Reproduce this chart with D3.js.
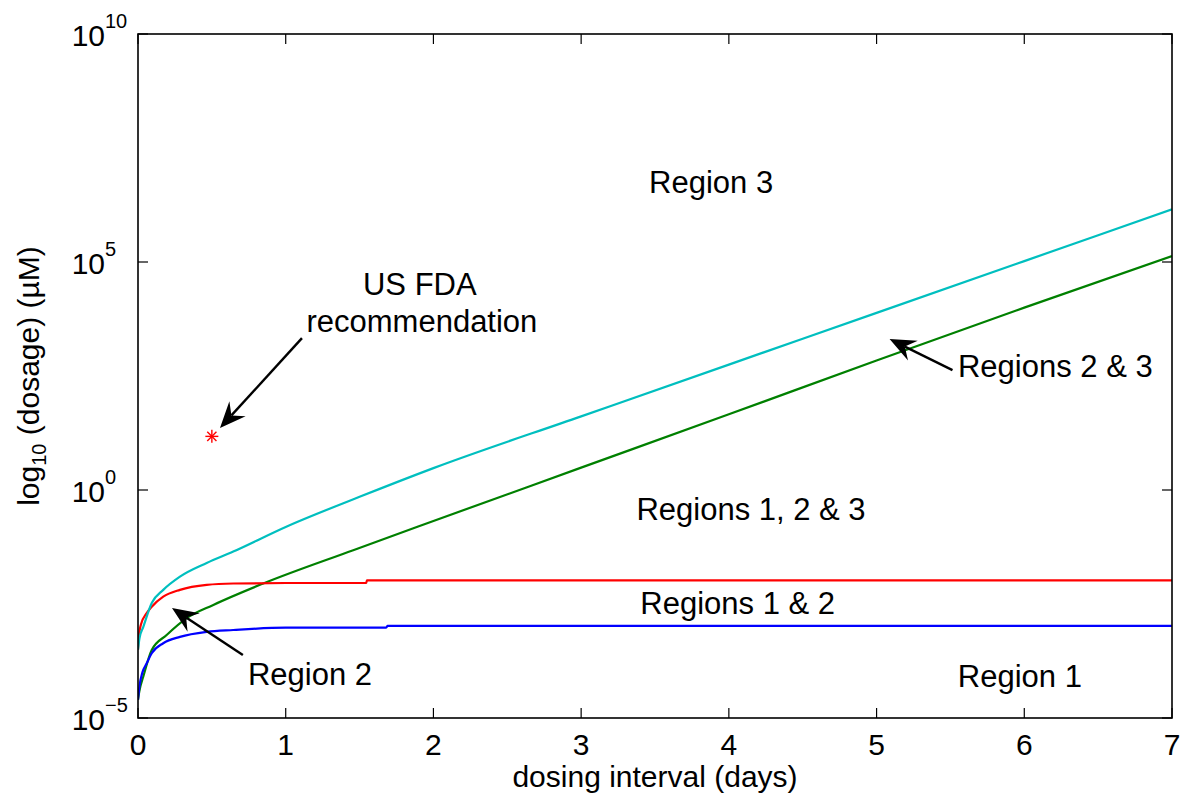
<!DOCTYPE html>
<html>
<head>
<meta charset="utf-8">
<script src="https://cdn.jsdelivr.net/npm/d3@7"></script>
<style>
  html, body { margin: 0; padding: 0; background: #fff; }
  svg { display: block; font-family: "Liberation Sans", Arial, Helvetica, sans-serif; }
</style>
</head>
<body>
<svg id="chart" width="1188" height="800"></svg>
<script>
// Dosing interval (days) sampled along each boundary curve
const daysCyan  = [0, 0.01, 0.036, 0.093, 0.171, 0.284, 0.465, 0.645, 1, 1.5, 2, 3, 4, 5, 6, 7];
const logCyan   = [-3.5, -3.25, -3.0, -2.48, -2.19, -1.9, -1.6, -1.35, -0.81, -0.15, 0.48, 1.615, 2.75, 3.885, 5.02, 6.155];

const daysGreen = [0, 0.01, 0.036, 0.093, 0.194, 0.33, 0.51, 0.848, 1.457, 2, 3, 4, 5, 6, 7];
const logGreen  = [-4.6, -4.4, -4.09, -3.51, -3.18, -2.81, -2.52, -2.05, -1.32, -0.68, 0.49, 1.66, 2.84, 4.0, 5.13];

const daysRed   = [0, 0.005, 0.02, 0.059, 0.093, 0.171, 0.284, 0.465, 0.645, 1.0, 1.545, 1.55, 7];
const logRed    = [-3.5, -3.22, -2.95, -2.7, -2.56, -2.34, -2.19, -2.08, -2.05, -2.04, -2.04, -1.98, -1.98];

const daysBlue  = [0, 0.01, 0.03, 0.059, 0.093, 0.171, 0.284, 0.465, 0.645, 1.0, 1.68, 1.69, 7];
const logBlue   = [-4.6, -4.3, -4.0, -3.8, -3.58, -3.36, -3.22, -3.11, -3.07, -3.02, -3.02, -2.98, -2.98];

// US FDA recommended regimen
const fdaDays = [0.5];
const fdaDose = [15];

// Axis ticks
const xTicks = [0, 1, 2, 3, 4, 5, 6, 7];
const yTickExp = [-5, 0, 5, 10];

const W = 1188, H = 800;
const margin = { left: 138, top: 34, right: 16, bottom: 82 };
const iw = W - margin.left - margin.right;   // plot width
const ih = H - margin.top - margin.bottom;   // plot height

const x = d3.scaleLinear().domain([0, 7]).range([0, iw]);
const y = d3.scaleLog().domain([1e-5, 1e10]).range([ih, 0]);

const svg = d3.select("#chart");
const g = svg.append("g").attr("transform", `translate(${margin.left},${margin.top})`);

const toPts = (xs, ls) => xs.map((d, i) => [d, Math.pow(10, ls[i])]);
const series = [
  { pts: toPts(daysCyan, logCyan),   color: "#00bfbf" },
  { pts: toPts(daysGreen, logGreen), color: "#008000" },
  { pts: toPts(daysRed, logRed),     color: "#ff0000" },
  { pts: toPts(daysBlue, logBlue),   color: "#0000ff" }
];

const line = d3.line().x(d => x(d[0])).y(d => y(d[1])).curve(d3.curveMonotoneX);

g.append("clipPath").attr("id", "plotclip")
  .append("rect").attr("width", iw).attr("height", ih);

const curves = g.append("g").attr("clip-path", "url(#plotclip)");
// draw in order so cyan/red sit above green/blue where they meet
[series[1], series[3], series[2], series[0]].forEach(s => {
  curves.append("path")
    .attr("d", line(s.pts))
    .attr("fill", "none")
    .attr("stroke", s.color)
    .attr("stroke-width", 2.2)
    .attr("stroke-linejoin", "round");
});

// FDA asterisk marker
fdaDays.forEach((d, i) => {
  const cx = x(d), cy = y(fdaDose[i]);
  const r = 6.5;
  const mk = g.append("g").attr("stroke", "#ff0000").attr("stroke-width", 1.4);
  [[0, 1], [1, 0], [0.707, 0.707], [0.707, -0.707]].forEach(([dx, dy]) => {
    mk.append("line")
      .attr("x1", cx - dx * r).attr("y1", cy - dy * r)
      .attr("x2", cx + dx * r).attr("y2", cy + dy * r);
  });
});

// Axis box
g.append("rect")
  .attr("width", iw).attr("height", ih)
  .attr("fill", "none").attr("stroke", "#000").attr("stroke-width", 1.6);

// Inward ticks on all four sides
const tk = 10;
const ticks = g.append("g").attr("stroke", "#000").attr("stroke-width", 1.2);
xTicks.forEach(t => {
  ticks.append("line").attr("x1", x(t)).attr("x2", x(t)).attr("y1", ih).attr("y2", ih - tk);
  ticks.append("line").attr("x1", x(t)).attr("x2", x(t)).attr("y1", 0).attr("y2", tk);
});
yTickExp.forEach(e => {
  const yy = y(Math.pow(10, e));
  ticks.append("line").attr("x1", 0).attr("x2", tk).attr("y1", yy).attr("y2", yy);
  ticks.append("line").attr("x1", iw).attr("x2", iw - tk).attr("y1", yy).attr("y2", yy);
});

// X tick labels
g.append("g").selectAll("text").data(xTicks).join("text")
  .attr("x", d => x(d)).attr("y", ih + 37)
  .attr("text-anchor", "middle")
  .attr("font-size", 30)
  .text(d => d);

// Y tick labels as powers of ten
const yl = g.append("g");
yTickExp.forEach(e => {
  const yy = y(Math.pow(10, e));
  yl.append("text")
    .attr("x", -33).attr("y", yy + 12)
    .attr("text-anchor", "end").attr("font-size", 30)
    .text("10");
  yl.append("text")
    .attr("x", -33).attr("y", yy - 6)
    .attr("text-anchor", "start").attr("font-size", 20)
    .text(e < 0 ? "\u2212" + Math.abs(e) : String(e));
});

// Axis titles
g.append("text")
  .attr("x", iw / 2).attr("y", ih + 69)
  .attr("text-anchor", "middle").attr("font-size", 30)
  .text("dosing interval (days)");

const yt = g.append("text")
  .attr("transform", `translate(${39 - margin.left},${ih / 2}) rotate(-90)`)
  .attr("text-anchor", "middle").attr("font-size", 30);
yt.append("tspan").text("log");
yt.append("tspan").attr("font-size", 20).attr("dy", 7).text("10");
yt.append("tspan").attr("dy", -7).text(" (dosage) (\u00b5M)");

// Region labels, placed in data coordinates (days, log10 dosage at baseline)
const labels = [
  { t: "Region 3",          d: 3.88,  l: 6.51 },
  { t: "US FDA",            d: 1.908, l: 4.28 },
  { t: "recommendation",    d: 1.922, l: 3.46 },
  { t: "Regions 2 & 3",     d: 6.21,  l: 2.48 },
  { t: "Regions 1, 2 & 3",  d: 4.15,  l: -0.66 },
  { t: "Regions 1 & 2",     d: 4.06,  l: -2.72 },
  { t: "Region 2",          d: 1.164, l: -4.28 },
  { t: "Region 1",          d: 5.97,  l: -4.32 }
];
g.append("g").selectAll("text").data(labels).join("text")
  .attr("x", d => x(d.d)).attr("y", d => y(Math.pow(10, d.l)))
  .attr("text-anchor", "middle").attr("font-size", 31)
  .text(d => d.t);

// Annotation arrows: tail -> tip, in (days, log10 dosage)
const arrows = [
  { from: [1.11, 3.33],   to: [0.555, 1.36] },
  { from: [0.71, -3.62],  to: [0.23, -2.59] },
  { from: [5.514, 2.63],  to: [5.088, 3.31] }
];
const ag = g.append("g");
arrows.forEach(a => {
  const x0 = x(a.from[0]), y0 = y(Math.pow(10, a.from[1]));
  const x1 = x(a.to[0]),   y1 = y(Math.pow(10, a.to[1]));
  const dx = x1 - x0, dy = y1 - y0;
  const len = Math.hypot(dx, dy);
  const ux = dx / len, uy = dy / len;      // along the shaft
  const px = -uy, py = ux;                 // perpendicular
  const hl = 26, hw = 11, notch = 17;
  const bx = x1 - ux * hl, by = y1 - uy * hl;
  const nx = x1 - ux * notch, ny = y1 - uy * notch;
  ag.append("line")
    .attr("x1", x0).attr("y1", y0).attr("x2", nx).attr("y2", ny)
    .attr("stroke", "#000").attr("stroke-width", 2.4);
  ag.append("path")
    .attr("d", `M${x1},${y1} L${bx + px * hw},${by + py * hw} L${nx},${ny} L${bx - px * hw},${by - py * hw} Z`)
    .attr("fill", "#000");
});
</script>
</body>
</html>
